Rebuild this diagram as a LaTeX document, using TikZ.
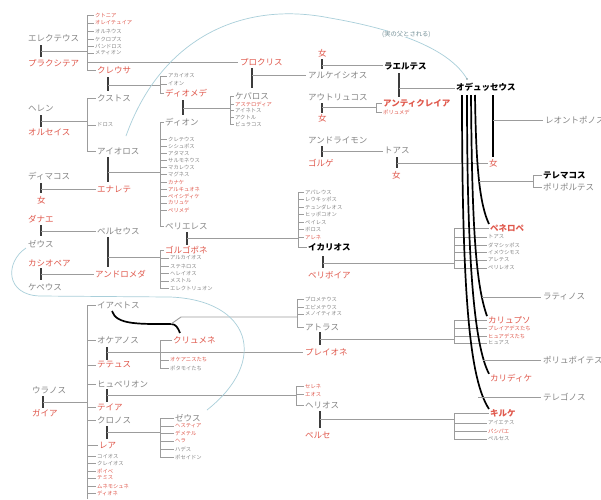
\documentclass[tikz,border=0pt]{standalone}
\usepackage{fontspec}
\setmainfont{Noto Sans CJK JP}
\newfontfamily\jp{Noto Sans CJK JP}
\definecolor{gtxt}{HTML}{858585}
\definecolor{rtxt}{HTML}{E0584C}
\definecolor{lgray}{HTML}{9C9C9C}
\definecolor{dgray}{HTML}{3C3C3C}
\definecolor{bl}{HTML}{A9CFDA}
\begin{document}
\begin{tikzpicture}[x=1pt,y=-1pt,
  base/.style={inner sep=0pt,anchor=west},
  gL/.style={base,text=gtxt,font=\jp\fontsize{8.5}{9}\selectfont},
  rL/.style={base,text=rtxt,font=\jp\fontsize{8.5}{9}\selectfont},
  bL/.style={base,text=black,font=\jp\bfseries\fontsize{8.5}{9}\selectfont},
  rbL/.style={base,text=rtxt,font=\jp\bfseries\fontsize{8.5}{9}\selectfont},
  gS/.style={base,text=gtxt,font=\jp\fontsize{5.3}{6}\selectfont},
  rS/.style={base,text=rtxt,font=\jp\fontsize{5.3}{6}\selectfont},
  ln/.style={draw=lgray,line width=0.9pt},
  mbar/.style={draw=dgray,line width=2.2pt},
  od/.style={draw=black,line width=1.7pt},
  blu/.style={draw=bl,line width=0.7pt},
  note/.style={base,text=bl!70!black,font=\jp\fontsize{6.3}{7}\selectfont}]
\useasboundingbox[fill=white] (0,0) rectangle (601,499);

% ---------- Erechtheus ----------
\node[gL] (erech) at (28,38) {エレクテウス};
\node[rL] (praxi) at (28,63) {プラクシテア};
\coordinate (m1) at (41,51);
\draw[mbar] (41,45) -- (41,57);
\coordinate (k1) at (87,0);
\node[rS] (chth) at (95,15) {クトニア};
\node[rS] (orei) at (95,23) {オレイテュイア};
\node[gS] (orne) at (95,31) {オルネウス};
\node[gS] (cecr) at (95,39) {ケクロプス};
\node[gS] (pand) at (95,46) {パンドロス};
\node[gS] (meti) at (95,53) {メティオン};
\node[rL] (creu) at (97,70) {クレウサ};
\node[rL] (proc) at (240,62) {プロクリス};
\draw[ln] (m1) -- (m1 -| k1);
\draw[ln] (chth.west -| k1) -- (creu.west -| k1);
\foreach \n in {chth,orei,orne,cecr,pand,meti,creu}{\draw[ln] (\n.west -| k1) -- ([xshift=-1.5pt]\n.west);}
\draw[ln] (proc.west -| k1) -- ([xshift=-2pt]proc.west);

% ---------- Hellen ----------
\node[gL] (hellen) at (28,108) {ヘレン};
\node[rL] (orseis) at (28,132) {オルセイス};
\coordinate (m2) at (41,121);
\draw[mbar] (41,115) -- (41,127);
\node[gL] (xuth) at (97,98) {クストス};
\node[gS] (dorus) at (97,125) {ドロス};
\node[gL] (aeol) at (97,151) {アイオロス};
\draw[ln] (m2) -- (m2 -| k1);
\draw[ln] (xuth.west -| k1) -- (aeol.west -| k1);
\foreach \n in {xuth,dorus,aeol}{\draw[ln] (\n.west -| k1) -- ([xshift=-1.5pt]\n.west);}

% ---------- Xuthus + Creusa ----------
\coordinate (k2) at (160,0);
\draw[mbar] (108,77) -- (108,91);
\coordinate (m3) at (108,85);
\node[gS] (acha) at (168,76) {アカイオス};
\node[gS] (ion) at (168,84) {イオン};
\node[rL] (diom) at (165,93) {ディオメデ};
\draw[ln] (m3) -- (m3 -| k2);
\draw[ln] (acha.west -| k2) -- (diom.west -| k2);
\foreach \n in {acha,ion,diom}{\draw[ln] (\n.west -| k2) -- ([xshift=-1.5pt]\n.west);}

% ---------- Diomede + Deion ----------
\node[gL] (deion) at (165,122) {ディオン};
\draw[mbar] (183,100) -- (183,115);
\coordinate (m4) at (183,108);
\coordinate (k3) at (230,0);
\node[gL] (ceph) at (235,96) {ケパロス};
\node[rS] (aster) at (235,104) {アステロディア};
\node[gS] (aene) at (235,110) {アイネトス};
\node[gS] (actor) at (235,117) {アクトル};
\node[gS] (phyl) at (235,124) {ピュラコス};
\draw[ln] (m4) -- (m4 -| k3);
\draw[ln] (ceph.west -| k3) -- (phyl.west -| k3);
\foreach \n in {ceph,aster,aene,actor,phyl}{\draw[ln] (\n.west -| k3) -- ([xshift=-1.5pt]\n.west);}

% ---------- Cephalus + Procris ----------
\draw[mbar] (252,68) -- (252,88);
\coordinate (m5) at (252,75);
\node[gL] (arce) at (308,75) {アルケイシオス};
\draw[ln] (m5) -- ([xshift=-2pt]arce.west);

% ---------- Arceisius + woman ----------
\node[rL] (w1) at (318,53) {女};
\draw[mbar] (322,59) -- (322,69);
\coordinate (m6) at (322,65);
\node[bL] (laer) at (384,66) {ラエルテス};
\draw[ln] (m6) -- ([xshift=-1pt]laer.west |- m6);

% ---------- Autolycus ----------
\node[gL] (auto) at (308,97) {アウトリュコス};
\node[rL] (w2) at (318,118) {女};
\draw[mbar] (322,103) -- (322,113);
\coordinate (m7) at (322,107);
\coordinate (k4) at (376,0);
\node[rbL] (antic) at (383,103) {アンティクレイア};
\node[rS] (polym) at (383,112) {ポリュメデ};
\draw[ln] (m7) -- (m7 -| k4);
\draw[ln] (antic.west -| k4) -- (polym.west -| k4);
\foreach \n in {antic,polym}{\draw[ln] (\n.west -| k4) -- ([xshift=-1.5pt]\n.west);}

% ---------- Laertes + Anticlea ----------
\draw[mbar] (399,73) -- (399,97);
\coordinate (m8) at (399,88);
\node[bL] (odys) at (456,87) {オデュッセウス};
\draw[ln] (m8) -- ([xshift=-1pt]odys.west |- m8);

% ---------- Deimachus ----------
\node[gL] (deim) at (28,176) {ディマコス};
\node[rL] (w3) at (37,200) {女};
\draw[mbar] (41,183) -- (41,193);
\coordinate (m9) at (41,189);
\node[rL] (enar) at (97,189) {エナレテ};
\draw[ln] (m9) -- ([xshift=-1.5pt]enar.west);

% ---------- Aeolus + Enarete ----------
\draw[mbar] (108,157) -- (108,182);
\coordinate (m10) at (108,172);
\node[gS] (a1) at (168,139) {クレテウス};
\node[gS] (a2) at (168,146) {シシュポス};
\node[gS] (a3) at (168,153) {アタマス};
\node[gS] (a4) at (168,160) {サルモネウス};
\node[gS] (a5) at (168,167) {マカレウス};
\node[gS] (a6) at (168,174) {マグネス};
\node[rS] (a7) at (168,182) {カナケ};
\node[rS] (a8) at (168,189) {アルキュオネ};
\node[rS] (a9) at (168,196) {ペイシディケ};
\node[rS] (a10) at (168,203) {カリュケ};
\node[rS] (a11) at (168,210) {ペリメデ};
\node[gL] (peri) at (165,226) {ペリエレス};
\draw[ln] (m10) -- (m10 -| k2);
\draw[ln] (deion.west -| k2) -- (peri.west -| k2);
\foreach \n in {deion,a1,a2,a3,a4,a5,a6,a7,a8,a9,a10,a11,peri}{\draw[ln] (\n.west -| k2) -- ([xshift=-1.5pt]\n.west);}

% ---------- Danae ----------
\node[rL] (danae) at (28,219) {ダナエ};
\node[gL] (zeus1) at (28,244) {ゼウス};
\draw[mbar] (41,225) -- (41,236);
\coordinate (m11) at (41,231);
\node[gL] (pers) at (97,231) {ペルセウス};
\draw[ln] (m11) -- ([xshift=-1.5pt]pers.west);

% ---------- Cassiopeia ----------
\node[rL] (cass) at (28,263) {カシオペア};
\node[gL] (ceph2) at (28,287) {ケペウス};
\draw[mbar] (41,268) -- (41,280);
\coordinate (m12) at (41,274);
\node[rL] (andr) at (95,274) {アンドロメダ};
\draw[ln] (m12) -- ([xshift=-1.5pt]andr.west);

% ---------- Perseus + Andromeda ----------
\draw[mbar] (108,237) -- (108,267);
\coordinate (m13) at (108,257);
\node[rL] (gorg) at (165,250) {ゴルゴポネ};
\node[gS] (p1) at (170,258) {アルカイオス};
\node[gS] (p2) at (170,266) {ステネロス};
\node[gS] (p3) at (170,273) {ヘレイオス};
\node[gS] (p4) at (170,281) {メストル};
\node[gS] (p5) at (170,288) {エレクトリュオン};
\draw[ln] (m13) -- (m13 -| k2);
\draw[ln] (gorg.west -| k2) -- (p5.west -| k2);
\foreach \n in {gorg,p1,p2,p3,p4,p5}{\draw[ln] (\n.west -| k2) -- ([xshift=-1.5pt]\n.west);}

% ---------- Perieres + Gorgophone ----------
\draw[mbar] (187,232) -- (187,245);
\coordinate (m14) at (187,238);
\coordinate (k5) at (298,0);
\node[gS] (t1) at (305,192) {アパレウス};
\node[gS] (t2) at (305,199) {レウキッポス};
\node[gS] (t3) at (305,207) {テュンダレオス};
\node[gS] (t4) at (305,214) {ヒッポコオン};
\node[gS] (t5) at (305,222) {ペイレス};
\node[gS] (t6) at (305,229) {ボロス};
\node[rS] (t7) at (305,237) {アレネ};
\node[bL] (icar) at (308,247) {イカリオス};
\draw[ln] (m14) -- (m14 -| k5);
\draw[ln] (t1.west -| k5) -- (icar.west -| k5);
\foreach \n in {t1,t2,t3,t4,t5,t6,t7,icar}{\draw[ln] (\n.west -| k5) -- ([xshift=-1.5pt]\n.west);}

% ---------- Icarius + Periboea ----------
\node[rL] (perib) at (308,275) {ペリボイア};
\draw[mbar] (323,256) -- (323,268);
\coordinate (m15) at (323,263);
\coordinate (k6) at (454,0);
\node[rbL] (pene) at (490,228) {ペネロペ};
\node[gS] (i1) at (488,237) {トアス};
\node[gS] (i2) at (488,245) {ダマシッポス};
\node[gS] (i3) at (488,252) {イメウシモス};
\node[gS] (i4) at (488,260) {アレテス};
\node[gS] (i5) at (488,268) {ペリレオス};
\draw[ln] (m15) -- (m15 -| k6);
\draw[ln] (pene.west -| k6) -- (i5.west -| k6);
\foreach \n in {pene,i1,i2,i3,i4,i5}{\draw[ln] (\n.west -| k6) -- ([xshift=-1.5pt]\n.west);}

% ---------- Andraemon + Gorge ----------
\node[gL] (andra) at (308,140) {アンドライモン};
\node[rL] (gorge) at (308,163) {ゴルゲ};
\draw[mbar] (322,146) -- (322,157);
\coordinate (m16) at (322,151);
\node[gL] (thoas) at (384,150) {トアス};
\draw[ln] (m16) -- ([xshift=-1pt]thoas.west |- m16);
\node[rL] (w5) at (392,175) {女};
\draw[mbar] (397,157) -- (397,168);
\coordinate (m17) at (397,163);
\node[rL] (w4) at (489,163) {女};
\draw[ln] (m17) -- ([xshift=-1pt]w4.west);

% ---------- Uranus + Gaia ----------
\node[gL] (uran) at (32,390) {ウラノス};
\node[rL] (gaia) at (32,413) {ガイア};
\draw[mbar] (43,396) -- (43,408);
\coordinate (m18) at (43,402);
\node[gL] (iape) at (97,305) {イアペトス};
\node[gL] (ocea) at (97,340) {オケアノス};
\node[rL] (teth) at (97,365) {テテュス};
\node[gL] (hype) at (97,384) {ヒュペリオン};
\node[rL] (thei) at (97,407) {テイア};
\node[gL] (kron) at (97,420) {クロノス};
\node[rL] (rhea) at (99,445) {レア};
\node[gS] (u1) at (97,456) {コイオス};
\node[gS] (u2) at (97,463) {クレイオス};
\node[rS] (u3) at (97,471) {ポイベ};
\node[rS] (u4) at (97,478) {テミス};
\node[rS] (u5) at (97,486) {ムネモシュネ};
\node[rS] (u6) at (97,493) {ディオネ};
\coordinate (ubot) at (87,499);
\draw[ln] (m18) -- (m18 -| k1);
\draw[ln] (iape.west -| k1) -- (ubot);
\foreach \n in {iape,ocea,teth,hype,thei,kron,rhea,u1,u2,u3,u4,u5,u6}{\draw[ln] (\n.west -| k1) -- ([xshift=-1.5pt]\n.west);}

% ---------- Oceanus + Tethys ----------
\draw[mbar] (107,347) -- (107,360);
\coordinate (m19) at (107,352);
\node[rL] (clym) at (173,340) {クリュメネ};
\node[rS] (oc1) at (170,360) {オケアニスたち};
\node[gS] (oc2) at (170,368) {ポタモイたち};
\node[rL] (plei) at (305,352) {プレイオネ};
\draw[ln] (m19) -- ([xshift=-2pt]plei.west);
\draw[ln] (clym.west -| k2) -- (oc2.west -| k2);
\foreach \n in {clym,oc1,oc2}{\draw[ln] (\n.west -| k2) -- ([xshift=-1.5pt]\n.west);}

% ---------- Iapetus + Clymene ----------
\coordinate (ic0) at (112,311);
\coordinate (ic1) at (171,324);
\draw[od] (ic0) .. controls (116,325) and (140,324) .. (ic1) .. controls (176,324) and (178,328) .. (180,333);
\coordinate (k7) at (297,0);
\node[gS] (at1) at (305,299) {プロメテウス};
\node[gS] (at2) at (305,307) {エピメテウス};
\node[gS] (at3) at (305,314) {メノイティオス};
\node[gL] (atlas) at (305,327) {アトラス};
\coordinate (ic2) at (181,317);
\draw[ln] (ic1) -- (ic2) -- (ic2 -| k7);
\draw[ln] (at1.west -| k7) -- (atlas.west -| k7);
\foreach \n in {at1,at2,at3,atlas}{\draw[ln] (\n.west -| k7) -- ([xshift=-1.5pt]\n.west);}

% ---------- Atlas + Pleione ----------
\draw[mbar] (320,332) -- (320,345);
\coordinate (m20) at (320,339);
\node[rL] (caly) at (488,320) {カリュプソ};
\node[rS] (c1) at (488,328) {プレイアデスたち};
\node[rS] (c2) at (488,336) {ヒュアデスたち};
\node[gS] (c3) at (488,343) {ヒュアス};
\draw[ln] (m20) -- (m20 -| k6);
\draw[ln] (caly.west -| k6) -- (c3.west -| k6);
\foreach \n in {caly,c1,c2,c3}{\draw[ln] (\n.west -| k6) -- ([xshift=-1.5pt]\n.west);}

% ---------- Hyperion + Theia ----------
\draw[mbar] (107,389) -- (107,402);
\coordinate (m21) at (107,395);
\coordinate (k8) at (296,0);
\node[rS] (h1) at (305,386) {セレネ};
\node[rS] (h2) at (305,394) {エオス};
\node[gL] (heli) at (305,405) {ヘリオス};
\draw[ln] (m21) -- (m21 -| k8);
\draw[ln] (h1.west -| k8) -- (heli.west -| k8);
\foreach \n in {h1,h2,heli}{\draw[ln] (\n.west -| k8) -- ([xshift=-1.5pt]\n.west);}

% ---------- Helios + Perse ----------
\node[rL] (perse) at (305,435) {ペルセ};
\draw[mbar] (320,411) -- (320,428);
\coordinate (m22) at (320,419);
\node[rbL] (circ) at (490,413) {キルケ};
\node[gS] (ci1) at (488,423) {アイエテス};
\node[rS] (ci2) at (488,431) {パシパエ};
\node[gS] (ci3) at (488,439) {ペルセス};
\draw[ln] (m22) -- (m22 -| k6);
\draw[ln] (circ.west -| k6) -- (ci3.west -| k6);
\foreach \n in {circ,ci1,ci2,ci3}{\draw[ln] (\n.west -| k6) -- ([xshift=-1.5pt]\n.west);}

% ---------- Kronos + Rhea ----------
\draw[mbar] (107,426) -- (107,439);
\coordinate (m23) at (107,432);
\node[gL] (zeus2) at (175,418) {ゼウス};
\node[rS] (z1) at (175,426) {ヘスティア};
\node[rS] (z2) at (175,433) {デメテル};
\node[rS] (z3) at (175,441) {ヘラ};
\node[gS] (z4) at (175,449) {ハデス};
\node[gS] (z5) at (175,457) {ポセイドン};
\draw[ln] (m23) -- (m23 -| k2);
\draw[ln] (zeus2.west -| k2) -- (z5.west -| k2);
\foreach \n in {zeus2,z1,z2,z3,z4,z5}{\draw[ln] (\n.west -| k2) -- ([xshift=-1.5pt]\n.west);}

% ---------- Odysseus and partners ----------
\node[gL] (leon) at (545,120) {レオントポノス};
\node[bL] (tele) at (543,175) {テレマコス};
\node[gL] (polyp) at (543,187) {ポリポルテス};
\node[gL] (lati) at (543,297) {ラティノス};
\node[gL] (poly2) at (543,360) {ポリュポイテス};
\node[rL] (call) at (490,378) {カリディケ};
\node[gL] (teleg) at (543,397) {テレゴノス};

\draw[od] (493,95) -- (493,157);
\draw[od] (475,95) .. controls (476,170) and (480,205) .. ([xshift=-1pt]pene.north west);
\draw[od] (471,95) .. controls (472,230) and (476,285) .. ([xshift=-1pt]caly.north west);
\draw[od] (467,95) .. controls (467,260) and (474,345) .. ([xshift=-1pt]call.north west);
\draw[od] (462,95) .. controls (462,300) and (470,380) .. ([xshift=-1pt]circ.north west);

\coordinate (o1) at (493,120);
\draw[ln] (o1) -- ([xshift=-2pt]leon.west);
\coordinate (k9) at (533,0);
\coordinate (o2) at (479,181);
\draw[ln] (o2) -- (o2 -| k9);
\draw[ln] (tele.west -| k9) -- (polyp.west -| k9);
\foreach \n in {tele,polyp}{\draw[ln] (\n.west -| k9) -- ([xshift=-1.5pt]\n.west);}
\coordinate (o3) at (482,297);
\draw[ln] (o3) -- ([xshift=-2pt]lati.west);
\coordinate (o4) at (483,360);
\draw[ln] (o4) -- ([xshift=-2pt]poly2.west);
\coordinate (o5) at (478,397);
\draw[ln] (o5) -- ([xshift=-2pt]teleg.west);

% ---------- blue links ----------
\coordinate (s1) at (126,136);
\coordinate (s2) at (467,79);
\draw[blu] (s1) .. controls (160,40) and (240,0) .. (330,18) .. controls (400,30) and (450,50) .. (s2);
\fill[bl!70!black] (s2) circle (0.9pt);
\node[note,fill=white,inner xsep=1pt] (lbl) at (381,34) {(実の父とされる)};
\coordinate (z1s) at (26,248);
\coordinate (z2s) at (207,410);
\draw[blu] (z1s) .. controls (5,262) and (5,295) .. (40,296) -- (170,297) .. controls (250,300) and (270,360) .. (z2s);
\end{tikzpicture}
\end{document}
